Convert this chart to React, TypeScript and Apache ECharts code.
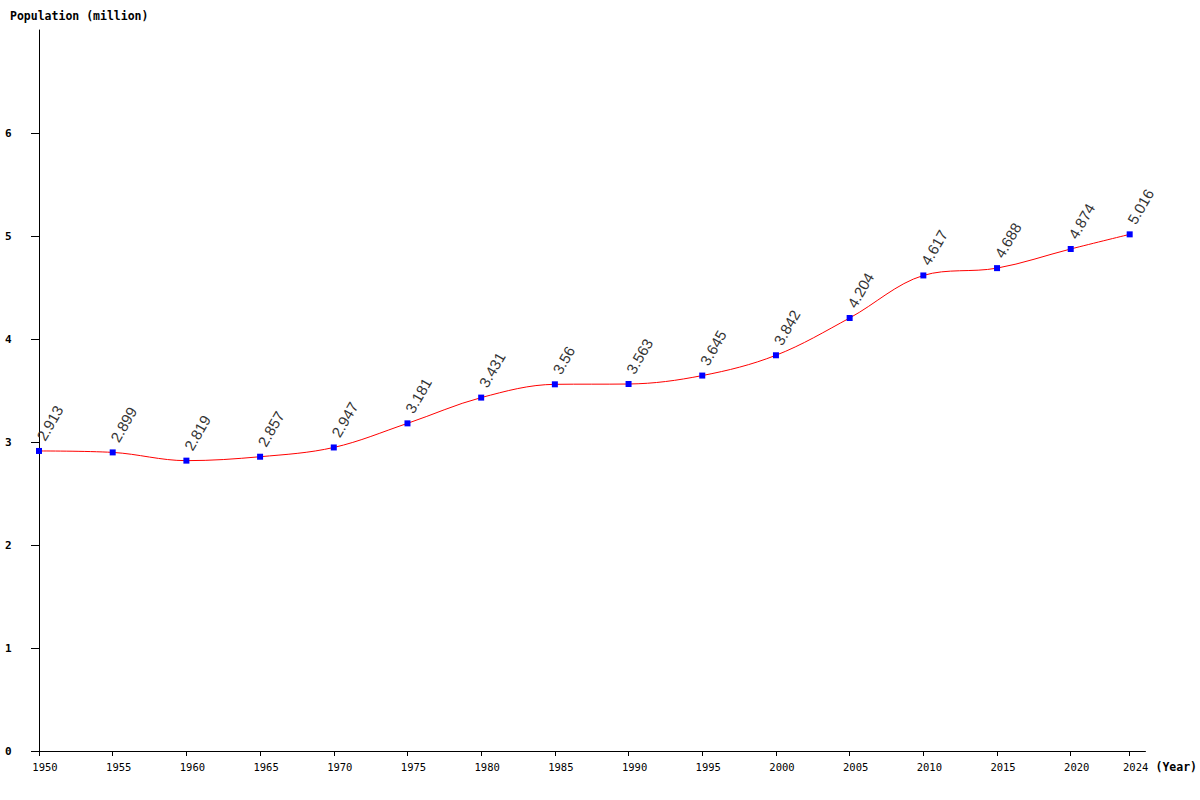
import React, { useEffect, useRef } from "react";
import * as echarts from "echarts";

const years = [1950, 1955, 1960, 1965, 1970, 1975, 1980, 1985, 1990, 1995, 2000, 2005, 2010, 2015, 2020, 2024];
const population = [2.913, 2.899, 2.819, 2.857, 2.947, 3.181, 3.431, 3.56, 3.563, 3.645, 3.842, 4.204, 4.617, 4.688, 4.874, 5.016];
const yTicks = [0, 1, 2, 3, 4, 5, 6];

export default function App() {
  const ref = useRef<HTMLDivElement>(null);
  useEffect(() => {
    if (!ref.current) return;
    const chart = echarts.init(ref.current, undefined, { renderer: "svg" });
    const mono = "'DejaVu Sans Mono', monospace";
    chart.setOption({
      animation: false,
      backgroundColor: "#ffffff",
      grid: { left: 39, right: 50, top: 30, bottom: 49, containLabel: false },
      graphic: [
        {
          type: "text",
          left: 10,
          top: 10,
          style: { text: "Population (million)", font: `bold 11.5px ${mono}`, fill: "#000" },
        },
      ],
      xAxis: {
        type: "value",
        min: 1950,
        max: 2025.07,
        name: "(Year)",
        nameLocation: "end",
        nameGap: 10,
        nameTextStyle: { fontFamily: mono, fontWeight: "bold", fontSize: 11.5, color: "#000", verticalAlign: "top", padding: [10, 0, 0, 0] },
        axisLine: { show: true, lineStyle: { color: "#000", width: 1 } },
        axisTick: { show: true, length: 5, lineStyle: { color: "#000" }, customValues: years },
        axisLabel: {
          fontFamily: mono,
          fontSize: 10.5,
          color: "#000",
          margin: 10,
          padding: [0, 0, 0, 12],
          customValues: years,
          formatter: (v: number) => String(v),
        },
        splitLine: { show: false },
      },
      yAxis: {
        type: "value",
        min: 0,
        max: 7,
        interval: 1,
        axisLine: { show: true, lineStyle: { color: "#000", width: 1 } },
        axisTick: { show: true, length: 8, lineStyle: { color: "#000" }, customValues: yTicks },
        axisLabel: {
          fontFamily: mono,
          fontWeight: "bold",
          fontSize: 11,
          color: "#000",
          margin: 34,
          align: "left",
          customValues: yTicks,
          formatter: (v: number) => String(v),
        },
        splitLine: { show: false },
      },
      series: [
        {
          type: "line",
          data: years.map((y, i) => [y, population[i]]),
          smooth: 0.35,
          symbol: "rect",
          symbolSize: 6,
          itemStyle: { color: "#0000ff" },
          lineStyle: { color: "#ff0000", width: 1 },
          label: {
            show: true,
            position: "top",
            distance: 6,
            offset: [3, 0],
            rotate: 60,
            align: "left",
            verticalAlign: "middle",
            fontFamily: "'Liberation Sans', Arial, sans-serif",
            fontSize: 15,
            color: "#333",
            formatter: (p: any) => String(p.value[1]),
          },
          z: 3,
        },
      ],
    });
    return () => chart.dispose();
  }, []);
  return <div ref={ref} style={{ position: "fixed", left: 0, top: 0, width: 1200, height: 800 }} />;
}
